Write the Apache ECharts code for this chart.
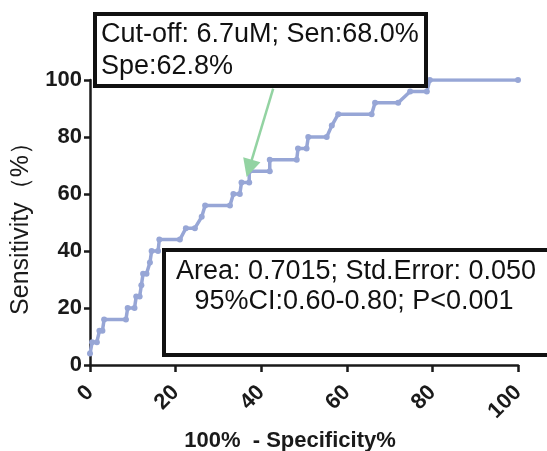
<!DOCTYPE html>
<html>
<head>
<meta charset="utf-8">
<script src="https://cdn.jsdelivr.net/npm/echarts@6/dist/echarts.min.js"></script>
<style>html,body{margin:0;padding:0;background:#fff;}#c{width:547px;height:451px;}</style>
</head>
<body>
<div id="c"></div>
<script>
// 100% - Specificity (%)
const oneMinusSpec = [0, 0.5, 1.6, 2.2, 2.9, 3.3, 8.4, 8.8, 10.4, 10.8, 11.6, 12.0, 12.4, 13.2, 14.0, 14.4, 15.9, 16.2, 21.0, 22.4, 24.5, 26.1, 26.9, 32.7, 33.5, 35.0, 35.4, 37.2, 37.2, 42.0, 42.0, 48.3, 48.6, 50.6, 51.0, 55.3, 56.5, 58.0, 65.8, 66.6, 72.0, 74.8, 78.7, 79.4, 100];
// Sensitivity (%)
const sensitivity = [4, 8, 8, 12, 12, 16, 16, 20, 20, 24, 24, 28, 32, 32, 36, 40, 40, 44, 44, 48, 48, 52, 56, 56, 60, 60, 64, 64, 68, 68, 72, 72, 76, 76, 80, 80, 84, 88, 88, 92, 92, 96, 96, 100, 100];
const xTicks = [0, 20, 40, 60, 80, 100];
const yTicks = [0, 20, 40, 60, 80, 100];
const arrowFrom = [42.8, 97];
const arrowTo = [37.2, 69];
const cutoffText = ['Cut-off: 6.7uM; Sen:68.0%', 'Spe:62.8%'];
const statsText = ['Area: 0.7015; Std.Error: 0.050', '95%CI:0.60-0.80; P<0.001'];

const FONT = '"Liberation Sans", Arial, sans-serif';
const chart = echarts.init(document.getElementById('c'), null, {renderer: 'canvas'});
const axisCol = '#1a1a1a';
chart.setOption({
  animation: false,
  backgroundColor: '#ffffff',
  grid: {left: 90, right: 29, top: 80, bottom: 86, containLabel: false, outerBoundsMode: 'none'},
  xAxis: {
    type: 'value', min: xTicks[0], max: xTicks[xTicks.length - 1], interval: 20,
    axisLine: {show: true, onZero: false, lineStyle: {color: axisCol, width: 2.5}},
    axisTick: {show: true, length: 7, lineStyle: {color: axisCol, width: 2.5}},
    splitLine: {show: false},
    axisLabel: {rotate: 45, margin: 24, color: axisCol, fontFamily: FONT, fontWeight: 'bold', fontSize: 22},
    name: '100%  - Specificity%', nameLocation: 'middle', nameGap: 64,
    nameTextStyle: {color: axisCol, fontFamily: FONT, fontWeight: 'bold', fontSize: 22, padding: [0, 28, 0, 0]}
  },
  yAxis: {
    type: 'value', min: yTicks[0], max: yTicks[yTicks.length - 1], interval: 20,
    axisLine: {show: true, onZero: false, lineStyle: {color: axisCol, width: 2.5}},
    axisTick: {show: true, length: 6, lineStyle: {color: axisCol, width: 2.5}},
    splitLine: {show: false},
    axisLabel: {margin: 8, color: axisCol, fontFamily: FONT, fontWeight: 'bold', fontSize: 22},
    name: 'Sensitivity（%）', nameLocation: 'middle', nameGap: 56,
    nameTextStyle: {color: axisCol, fontFamily: FONT, fontSize: 25}
  },
  series: [{
    type: 'line',
    data: oneMinusSpec.map((x, i) => [x, sensitivity[i]]),
    symbol: 'circle', symbolSize: 6, showSymbol: true,
    itemStyle: {color: '#97a6d6'},
    lineStyle: {color: '#97a6d6', width: 3.5},
    z: 2,
    markLine: {
      silent: true, animation: false,
      symbol: ['none', 'triangle'], symbolSize: 18,
      label: {show: false},
      lineStyle: {color: '#93d3a2', width: 2.5, type: 'solid'},
      data: [[{coord: arrowFrom}, {coord: arrowTo}]]
    }
  }],
  graphic: [
    {type: 'rect', z: 100, shape: {x: 95, y: 14, width: 331, height: 72},
     style: {fill: '#fff', stroke: '#111', lineWidth: 4}},
    {type: 'text', z: 101, x: 101, y: 35,
     style: {text: cutoffText[0], font: '27px ' + FONT, fill: '#111', verticalAlign: 'middle', align: 'left'}},
    {type: 'text', z: 101, x: 101, y: 67,
     style: {text: cutoffText[1], font: '27px ' + FONT, fill: '#111', verticalAlign: 'middle', align: 'left'}},
    {type: 'rect', z: 100, shape: {x: 164, y: 250, width: 400, height: 105},
     style: {fill: '#fff', stroke: '#111', lineWidth: 4}},
    {type: 'text', z: 101, x: 356, y: 272,
     style: {text: statsText[0], font: '27px ' + FONT, fill: '#111', verticalAlign: 'middle', align: 'center'}},
    {type: 'text', z: 101, x: 354, y: 302,
     style: {text: statsText[1], font: '27px ' + FONT, fill: '#111', verticalAlign: 'middle', align: 'center'}}
  ]
});
</script>
</body>
</html>
